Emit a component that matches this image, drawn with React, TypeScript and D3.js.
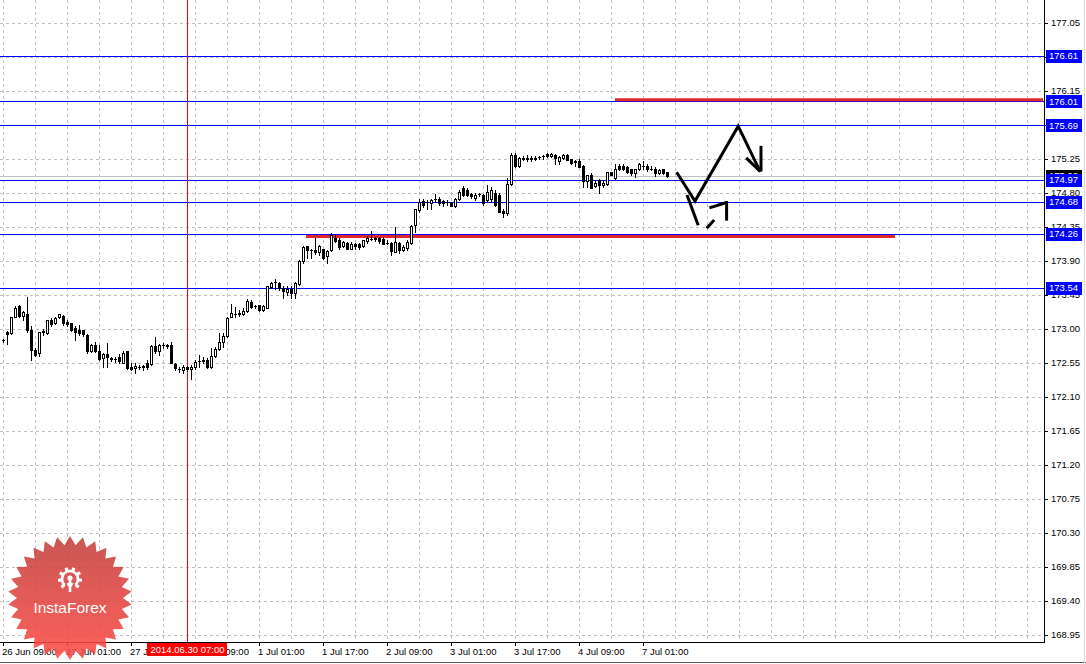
import React from "react";
import * as d3 from "d3";

// ---------- DATA ----------
// H1 candles from 26 Jun 09:00 : [open, high, low, close]
const CANDLES: [number, number, number, number][] = [
  [172.85, 172.87, 172.83, 172.85], [172.95, 172.97, 172.8, 172.93], [172.94, 173.16, 172.93, 173.15], [173.16, 173.3, 173.15, 173.28],
  [173.3, 173.32, 173.15, 173.17], [173.17, 173.23, 173.12, 173.22], [173.2, 173.42, 172.96, 172.98], [172.98, 173.03, 172.58, 172.72],
  [172.72, 172.74, 172.64, 172.65], [172.68, 172.96, 172.64, 172.95], [172.97, 173.0, 172.92, 172.96], [172.94, 173.12, 172.93, 173.11],
  [173.11, 173.14, 173.04, 173.06], [173.07, 173.15, 173.06, 173.14], [173.15, 173.2, 173.14, 173.19], [173.17, 173.18, 173.05, 173.07],
  [173.09, 173.12, 173.03, 173.06], [173.07, 173.08, 172.97, 172.98], [173.01, 173.03, 172.85, 172.96], [172.98, 173.05, 172.92, 172.94],
  [172.98, 172.98, 172.9, 172.93], [172.92, 172.93, 172.68, 172.7], [172.7, 172.8, 172.69, 172.79], [172.79, 172.83, 172.69, 172.7],
  [172.71, 172.79, 172.59, 172.6], [172.61, 172.68, 172.49, 172.67], [172.67, 172.81, 172.49, 172.62], [172.6, 172.63, 172.57, 172.61],
  [172.6, 172.63, 172.56, 172.6], [172.63, 172.66, 172.55, 172.57], [172.55, 172.71, 172.54, 172.68], [172.7, 172.71, 172.46, 172.48],
  [172.49, 172.55, 172.45, 172.46], [172.48, 172.54, 172.42, 172.5], [172.49, 172.52, 172.46, 172.49], [172.49, 172.52, 172.45, 172.5],
  [172.54, 172.58, 172.46, 172.49], [172.53, 172.78, 172.52, 172.77], [172.77, 172.89, 172.68, 172.71], [172.71, 172.8, 172.65, 172.78],
  [172.78, 172.81, 172.74, 172.79], [172.77, 172.8, 172.74, 172.79], [172.79, 172.82, 172.54, 172.55], [172.53, 172.54, 172.45, 172.48],
  [172.46, 172.49, 172.43, 172.46], [172.45, 172.52, 172.41, 172.49], [172.49, 172.51, 172.44, 172.46], [172.46, 172.52, 172.34, 172.49],
  [172.49, 172.59, 172.47, 172.56], [172.57, 172.65, 172.49, 172.57], [172.58, 172.63, 172.54, 172.57], [172.59, 172.61, 172.48, 172.49],
  [172.49, 172.74, 172.48, 172.64], [172.64, 172.76, 172.63, 172.73], [172.73, 172.94, 172.72, 172.83], [172.83, 172.94, 172.76, 172.9],
  [172.9, 173.15, 172.89, 173.14], [173.16, 173.33, 173.15, 173.21], [173.19, 173.29, 173.16, 173.19], [173.19, 173.25, 173.17, 173.21],
  [173.2, 173.28, 173.18, 173.23], [173.23, 173.39, 173.22, 173.36], [173.35, 173.38, 173.27, 173.29], [173.3, 173.32, 173.28, 173.3],
  [173.31, 173.32, 173.24, 173.25], [173.25, 173.31, 173.24, 173.3], [173.28, 173.57, 173.27, 173.56], [173.55, 173.62, 173.535, 173.61],
  [173.62, 173.66, 173.53, 173.62], [173.61, 173.62, 173.51, 173.535], [173.54, 173.56, 173.4, 173.5], [173.49, 173.56, 173.45, 173.53],
  [173.52, 173.56, 173.4, 173.47], [173.47, 173.62, 173.41, 173.6], [173.59, 173.91, 173.58, 173.89], [173.89, 174.09, 173.87, 174.08],
  [174.09, 174.09, 173.94, 174.04], [174.04, 174.06, 173.93, 174.04], [174.04, 174.2, 173.99, 174.02], [174.02, 174.11, 173.98, 174.09],
  [174.05, 174.06, 173.92, 173.94], [173.96, 174.04, 173.87, 174.03], [174.04, 174.27, 174.03, 174.24], [174.2, 174.26, 174.15, 174.16],
  [174.17, 174.2, 174.06, 174.08], [174.09, 174.16, 174.08, 174.15], [174.14, 174.15, 174.05, 174.06], [174.06, 174.15, 174.05, 174.12],
  [174.12, 174.14, 174.05, 174.09], [174.12, 174.13, 174.05, 174.08], [174.09, 174.18, 174.08, 174.17], [174.16, 174.23, 174.14, 174.2],
  [174.19, 174.29, 174.17, 174.19], [174.19, 174.22, 174.16, 174.2], [174.2, 174.22, 174.13, 174.16], [174.19, 174.22, 174.12, 174.12],
  [174.14, 174.18, 174.12, 174.14], [174.13, 174.15, 173.98, 174.03], [174.02, 174.35, 174.01, 174.15], [174.14, 174.15, 174.0, 174.04],
  [174.04, 174.11, 174.03, 174.08], [174.07, 174.17, 174.04, 174.15], [174.13, 174.37, 174.12, 174.36], [174.37, 174.59, 174.28, 174.58],
  [174.57, 174.71, 174.55, 174.68], [174.69, 174.71, 174.61, 174.64], [174.68, 174.7, 174.59, 174.68], [174.66, 174.71, 174.59, 174.7],
  [174.71, 174.78, 174.68, 174.71], [174.72, 174.74, 174.64, 174.66], [174.69, 174.7, 174.63, 174.66], [174.68, 174.7, 174.64, 174.68],
  [174.66, 174.68, 174.62, 174.62], [174.62, 174.73, 174.61, 174.71], [174.71, 174.84, 174.7, 174.81], [174.86, 174.89, 174.76, 174.77],
  [174.83, 174.86, 174.76, 174.77], [174.78, 174.79, 174.73, 174.75], [174.73, 174.79, 174.7, 174.77], [174.78, 174.79, 174.75, 174.78],
  [174.77, 174.78, 174.64, 174.66], [174.7, 174.9, 174.69, 174.81], [174.71, 174.87, 174.68, 174.84], [174.79, 174.83, 174.63, 174.64],
  [174.77, 174.79, 174.54, 174.54], [174.56, 174.58, 174.48, 174.53], [174.53, 175.0, 174.51, 174.92], [174.92, 175.33, 174.9, 175.3],
  [175.3, 175.32, 175.14, 175.15], [175.15, 175.27, 175.14, 175.26], [175.25, 175.28, 175.23, 175.26], [175.25, 175.3, 175.22, 175.26],
  [175.25, 175.28, 175.22, 175.26], [175.25, 175.28, 175.23, 175.26], [175.27, 175.29, 175.24, 175.27], [175.28, 175.3, 175.25, 175.28],
  [175.31, 175.32, 175.27, 175.28], [175.28, 175.32, 175.27, 175.31], [175.3, 175.31, 175.18, 175.26], [175.22, 175.29, 175.18, 175.27],
  [175.26, 175.31, 175.24, 175.3], [175.3, 175.31, 175.23, 175.23], [175.24, 175.25, 175.18, 175.19], [175.22, 175.23, 175.15, 175.21],
  [175.22, 175.24, 175.14, 175.14], [175.15, 175.17, 174.87, 174.95], [174.95, 175.04, 174.87, 175.04], [175.03, 175.06, 174.86, 174.86],
  [174.89, 174.97, 174.88, 174.93], [174.97, 174.98, 174.8, 174.9], [174.9, 174.97, 174.88, 174.93], [174.92, 175.08, 174.9, 175.07],
  [175.07, 175.08, 175.03, 175.04], [174.99, 175.18, 174.98, 175.11], [175.15, 175.18, 175.1, 175.11], [175.15, 175.18, 175.1, 175.12],
  [175.14, 175.16, 175.06, 175.08], [175.11, 175.12, 175.03, 175.06], [175.06, 175.12, 175.01, 175.11], [175.11, 175.19, 175.1, 175.18],
  [175.15, 175.22, 175.12, 175.15], [175.15, 175.18, 175.09, 175.11], [175.12, 175.15, 175.1, 175.12], [175.12, 175.14, 175.02, 175.06],
  [175.06, 175.12, 175.05, 175.1], [175.11, 175.12, 175.05, 175.06], [175.07, 175.08, 175.01, 175.02],
];

const PRICE_TICKS = [168.95, 169.4, 169.85, 170.3, 170.75, 171.2, 171.65, 172.1, 172.55, 173.0, 173.45, 173.9, 174.35, 174.8, 175.25, 175.7, 176.15, 176.6, 177.05];
const TIME_LABELS: [number, string][] = [
  [0, "26 Jun 09:00"], [16, "27 Jun 01:00"], [32, "27 Jun 17:00"], [48, "30 Jun 09:00"], [64, "1 Jul 01:00"], [80, "1 Jul 17:00"],
  [96, "2 Jul 09:00"], [112, "3 Jul 01:00"], [128, "3 Jul 17:00"], [144, "4 Jul 09:00"], [160, "7 Jul 01:00"],
];
const BLUE_LEVELS = [176.61, 176.01, 175.69, 174.97, 174.68, 174.26, 173.54];
const BID = 175.02;
const RED_LEVELS: [number, number, number][] = [[153, 260, 176.03], [75.75, 223, 174.22]]; // from bar, to bar, price
const CROSS_BAR = 46;
const CROSS_LABEL = "2014.06.30 07:00";
// hand-drawn arrows: [barIndex, price]
const ARROW_MAIN: [number, number][] = [[168.4, 175.07], [173, 174.69], [183.8, 175.68], [189.3, 175.08]];
const ARROW_MAIN_HEAD: [number, number][][] = [[[189.5, 175.42], [189.5, 175.08]], [[185.8, 175.26], [189.3, 175.08]]];
const ARROW_ALT: [number, number][][] = [
  [[171, 174.77], [173.8, 174.37]],
  [[175.9, 174.33], [177.8, 174.44]],
  [[176.6, 174.6], [180.9, 174.67]],
  [[180.9, 174.69], [180.9, 174.43]],
];

const FONT = "'Liberation Sans', Arial, sans-serif";

export default function App() {
  const W = 1086, H = 664;
  const plotR = 1044, plotB = 642;
  const x = d3.scaleLinear().domain([0, 260]).range([3, 1043]);
  const y = d3.scaleLinear().domain([168.95, 177.05]).range([634.7, 22.7]);
  const cr = (v: number) => Math.round(v) + 0.5;
  const line = d3.line<[number, number]>().x((d) => x(d[0])).y((d) => y(d[1]));

  const vGrid = d3.range(0, 261, 8);

  // star logo
  const n = 30, R = 62, r0 = 53, cx = 70, cy = 598;
  const starPts: [number, number][] = d3.range(2 * n).map((k) => {
    const a = (k * Math.PI) / n - Math.PI / 2;
    const rr = k % 2 === 0 ? R : r0;
    return [cx + rr * Math.cos(a), cy + rr * Math.sin(a)];
  });
  const starPath = d3.line().curve(d3.curveLinearClosed)(starPts) as string;
  const gearTeeth = d3.range(8);

  return (
    <svg width={W} height={H} style={{ position: "absolute", left: 0, top: 0, background: "#fff" }} fontFamily={FONT}>
      <defs>
        <linearGradient id="starG" x1="0" y1="0" x2="0" y2="1">
          <stop offset="0" stopColor="#c2403c" />
          <stop offset="1" stopColor="#ff4a45" />
        </linearGradient>
      </defs>
      <rect x={0} y={0} width={W} height={H} fill="#fff" />
      {/* grid */}
      <g stroke="#c0c0c0" strokeWidth={1} strokeDasharray="3,3">
        {PRICE_TICKS.map((p) => (
          <line key={"h" + p} x1={0} x2={plotR - 2} y1={cr(y(p))} y2={cr(y(p))} />
        ))}
        {vGrid.map((i) => (
          <line key={"v" + i} x1={cr(x(i))} x2={cr(x(i))} y1={0} y2={plotB} />
        ))}
      </g>
      {/* bid line */}
      <line x1={0} x2={plotR} y1={cr(y(BID))} y2={cr(y(BID))} stroke="#c0c0c0" />
      {/* blue levels */}
      {BLUE_LEVELS.map((p) => (
        <line key={"b" + p} x1={0} x2={plotR} y1={cr(y(p))} y2={cr(y(p))} stroke="#0000ff" />
      ))}
      {/* crosshair */}
      <line x1={cr(x(CROSS_BAR))} x2={cr(x(CROSS_BAR))} y1={0} y2={plotB} stroke="#ff0000" />
      {/* red levels */}
      {RED_LEVELS.map(([a, b, p], k) => (
        <line key={"r" + k} x1={x(a)} x2={Math.min(x(b), plotR)} y1={y(p)} y2={y(p)} stroke="#e3262b" strokeWidth={3} />
      ))}
      {/* candles */}
      <g>
        {CANDLES.map(([o, h, l, c], i) => {
          const xc = Math.round(x(i));
          const top = Math.round(y(Math.max(o, c)));
          const bot = Math.round(y(Math.min(o, c)));
          const bull = c >= o;
          return (
            <g key={i}>
              <line x1={xc + 0.5} x2={xc + 0.5} y1={Math.round(y(h))} y2={Math.round(y(l)) + 1} stroke="#000" />
              {bot - top >= 1 ? (
                <rect x={xc - 0.5} y={top + 0.5} width={2} height={bot - top} fill={bull ? "#fff" : "#000"} stroke="#000" />
              ) : (
                <line x1={xc - 1} x2={xc + 2} y1={top + 0.5} y2={top + 0.5} stroke="#000" />
              )}
            </g>
          );
        })}
      </g>
      {/* hand drawn arrows */}
      <g stroke="#000" strokeWidth={3} fill="none" strokeLinecap="butt" strokeLinejoin="miter">
        <path d={line(ARROW_MAIN) as string} />
        {ARROW_MAIN_HEAD.map((s, k) => (
          <path key={"mh" + k} d={line(s) as string} />
        ))}
        {ARROW_ALT.map((s, k) => (
          <path key={"alt" + k} d={line(s) as string} />
        ))}
      </g>
      {/* axes */}
      <line x1={cr(plotR)} x2={cr(plotR)} y1={0} y2={plotB + 1} stroke="#000" />
      <line x1={0} x2={plotR + 1} y1={cr(plotB)} y2={cr(plotB)} stroke="#000" />
      {/* price labels */}
      <g fontSize={9.5} fill="#000">
        {PRICE_TICKS.map((p) => (
          <g key={"pl" + p}>
            <line x1={plotR + 1} x2={plotR + 4} y1={cr(y(p))} y2={cr(y(p))} stroke="#000" />
            <text x={plotR + 7} y={y(p)} dy="0.36em">
              {p.toFixed(2)}
            </text>
          </g>
        ))}
      </g>
      {/* bid label */}
      <rect x={plotR + 2} y={Math.round(y(BID)) - 6} width={36} height={13} fill="#000" />
      <text x={plotR + 5} y={y(BID)} dy="0.36em" fontSize={9.5} fill="#fff">
        {BID.toFixed(2)}
      </text>
      {/* blue labels */}
      {BLUE_LEVELS.map((p) => (
        <g key={"bl" + p}>
          <rect x={plotR + 2} y={Math.round(y(p)) - 6} width={36} height={13} fill="#0000ff" />
          <text x={plotR + 5} y={y(p)} dy="0.36em" fontSize={9.5} fill="#fff">
            {p.toFixed(2)}
          </text>
        </g>
      ))}
      {/* time labels */}
      <g fontSize={9.5} fill="#000">
        {TIME_LABELS.map(([i, t]) => (
          <g key={"t" + i}>
            <line x1={cr(x(i))} x2={cr(x(i))} y1={plotB} y2={plotB + 4} stroke="#000" />
            <text x={Math.round(x(i)) - 1} y={plotB + 13}>
              {t}
            </text>
          </g>
        ))}
      </g>
      {/* crosshair time label */}
      <rect x={Math.round(x(CROSS_BAR)) - 40} y={plotB + 1} width={80} height={13} fill="#ff0000" />
      <text x={Math.round(x(CROSS_BAR)) + 0.5} y={plotB + 11} fontSize={9.5} fill="#fff" textAnchor="middle">
        {CROSS_LABEL}
      </text>
      {/* frame */}
      <line x1={0} x2={W} y1={662.5} y2={662.5} stroke="#555" />
      <line x1={1084.5} x2={1084.5} y1={0} y2={663} stroke="#d8d8d8" />
      {/* logo */}
      <g opacity={0.88}>
        <path d={starPath} fill="url(#starG)" />
        <g stroke="#fff" fill="none" strokeWidth={2.6}>
          <path d={d3.arc()({ innerRadius: 8, outerRadius: 8, startAngle: -2.4, endAngle: 2.4 }) as string} transform={`translate(${cx},${cy - 19})`} />
        </g>
        <g fill="#fff" transform={`translate(${cx},${cy - 19})`}>
          {gearTeeth.map((k) => {
            const a = -135 + k * 38.5;
            return <rect key={k} x={-1.6} y={-12} width={3.2} height={4} transform={`rotate(${a})`} />;
          })}
          <circle cx={0} cy={-1} r={2.6} />
          <rect x={-1.3} y={0} width={2.6} height={13} />
          <rect x={-5.5} y={2} width={2.2} height={5} transform="rotate(-35)" />
          <rect x={3.3} y={2} width={2.2} height={5} transform="rotate(35)" />
        </g>
        <text x={cx} y={cy + 15} textAnchor="middle" fontSize={15.5} fill="#fff" fontFamily={FONT}>
          InstaForex
        </text>
      </g>
    </svg>
  );
}
